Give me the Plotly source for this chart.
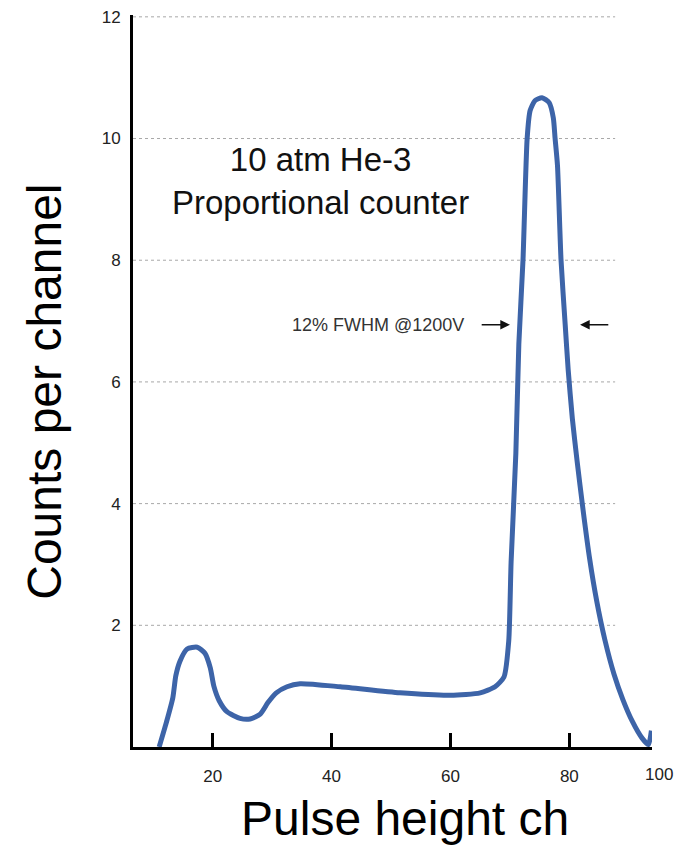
import plotly.graph_objects as go

# Curve (pulse height channel, counts per channel)
pulse_ch = [11.0, 12.2, 13.3, 13.8, 14.5, 15.7, 17.4, 18.7, 19.6, 20.2, 21.1, 22.4, 24.6, 26.3,
            28.0, 29.3, 30.7, 32.5, 34.7, 41.5, 51.5, 60.0, 65.0, 67.5, 69.0, 69.8, 70.2,
            71.0, 71.5, 72.2, 72.9, 73.4, 74.2, 75.4, 76.6, 77.3, 77.6, 78.0, 78.6, 79.3,
            79.8, 80.5, 81.3, 82.3, 83.4, 84.6, 86.0, 87.5, 89.0, 90.6, 92.2, 93.3, 93.8]
counts = [0.0, 0.4, 0.81, 1.17, 1.41, 1.61, 1.64, 1.54, 1.30, 1.00, 0.76, 0.58, 0.47, 0.46,
          0.54, 0.73, 0.89, 0.99, 1.04, 0.99, 0.89, 0.85, 0.89, 0.99, 1.15, 1.74, 3.04,
          4.83, 6.62, 8.0, 10.0, 10.46, 10.62, 10.67, 10.59, 10.34, 10.0, 9.56, 8.0, 6.94,
          6.2, 5.4, 4.7, 3.9, 3.1, 2.4, 1.75, 1.2, 0.78, 0.42, 0.15, 0.04, 0.27]

x_ticks = [20, 40, 60, 80]
x_tick_text = ["20", "40", "60", "80"]
y_ticks = [2, 4, 6, 8, 10, 12]
y_tick_text = ["2", "4", "6", "8", "10", "12"]

x_range = [6.6, 93.9]
y_range = [0, 12.03]
grid_end = 87.7

title_text = "10 atm He-3<br>Proportional counter"
fwhm_text = "12% FWHM @1200V"
x_title = "Pulse height ch"
y_title = "Counts per channel"
last_tick_text = "100"

fig = go.Figure()
fig.add_trace(go.Scatter(
    x=pulse_ch, y=counts, mode="lines",
    line=dict(color="#3d64a8", width=5, shape="spline", smoothing=0.6),
    showlegend=False, hoverinfo="skip", cliponaxis=False,
))

shapes = []
for yv in y_ticks:
    shapes.append(dict(type="line", xref="x", yref="y", x0=x_range[0], x1=grid_end,
                       y0=yv, y1=yv, line=dict(color="#a8a8a8", width=1, dash="dot"),
                       layer="below"))

label_font = dict(family="Liberation Sans, Arial, sans-serif", size=17, color="#222222")
big_font = dict(family="Liberation Sans, Arial, sans-serif", size=48, color="#000000")

annotations = [
    dict(text=title_text, x=38.1, y=9.3, xref="x", yref="y", showarrow=False,
         font=dict(family="Liberation Sans, Arial, sans-serif", size=33, color="#111111"),
         align="center"),
    dict(text=fwhm_text, x=47.8, y=6.94, xref="x", yref="y", showarrow=False,
         font=dict(family="Liberation Sans, Arial, sans-serif", size=18, color="#333333")),
    dict(text="", x=70.0, y=6.94, ax=65.0, ay=6.94, xref="x", yref="y", axref="x", ayref="y",
         showarrow=True, arrowhead=2, arrowsize=1.2, arrowwidth=1.6, arrowcolor="#111111"),
    dict(text="", x=81.8, y=6.94, ax=86.8, ay=6.94, xref="x", yref="y", axref="x", ayref="y",
         showarrow=True, arrowhead=2, arrowsize=1.2, arrowwidth=1.6, arrowcolor="#111111"),
    dict(text=last_tick_text, x=1.0135, y=-0.038, xref="paper", yref="paper", showarrow=False,
         font=label_font, xanchor="center", yanchor="middle"),
    dict(text=x_title, x=0.524, y=-0.097, xref="paper", yref="paper", showarrow=False,
         font=big_font, xanchor="center", yanchor="middle"),
    dict(text=y_title, x=-0.170, y=0.485, xref="paper", yref="paper", showarrow=False,
         font=big_font, textangle=-90, xanchor="center", yanchor="middle"),
]

fig.update_layout(
    width=684, height=845,
    margin=dict(l=133, r=32, t=8, b=98),
    paper_bgcolor="white", plot_bgcolor="white",
    shapes=shapes, annotations=annotations,
    xaxis=dict(range=x_range, tickvals=x_ticks, ticktext=x_tick_text, showgrid=False,
               zeroline=False, showline=True, linecolor="black", linewidth=3,
               ticks="inside", ticklen=14, tickwidth=2.5, tickcolor="black",
               tickfont=label_font, ticklabelstandoff=12),
    yaxis=dict(range=y_range, tickvals=y_ticks, ticktext=y_tick_text, showgrid=False,
               zeroline=False, showline=True, linecolor="black", linewidth=3,
               ticks="", tickfont=label_font, ticklabelstandoff=6),
)

fig.write_html("out.html")
